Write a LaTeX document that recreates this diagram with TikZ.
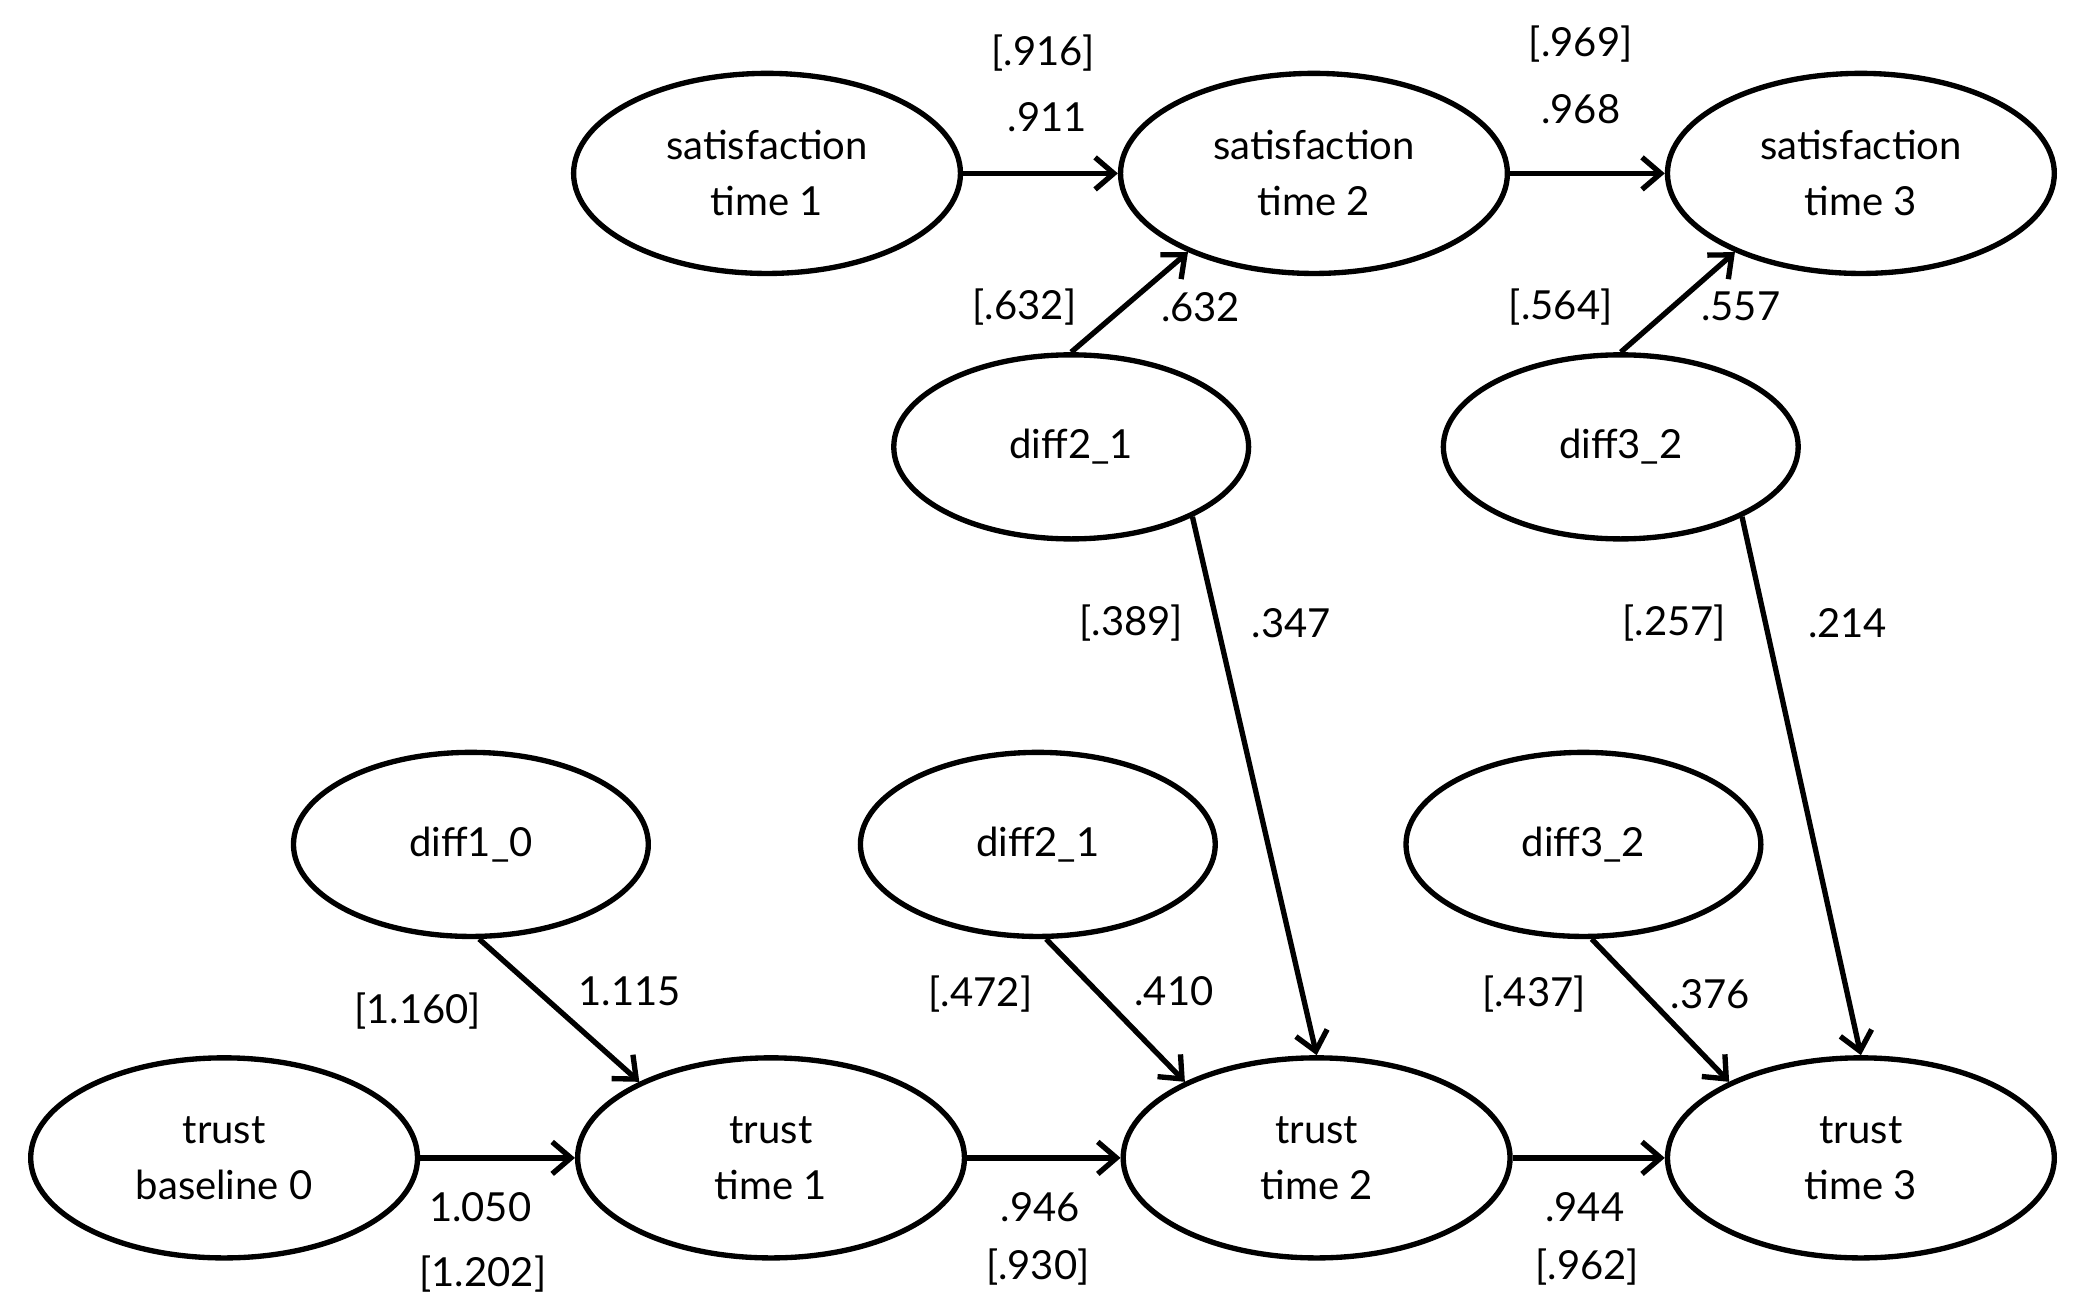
\documentclass[tikz,border=0pt]{standalone}
\usepackage{fontspec}
\setmainfont{Lato}
\usetikzlibrary{shapes.geometric,arrows.meta}
\begin{document}
\begin{tikzpicture}[x=0.5pt,y=-0.5pt,
  el/.style={draw,line width=2pt,ellipse,minimum width=145pt,minimum height=75pt,align=center,font=\fontsize{15}{21}\selectfont,inner sep=0pt},
  ed/.style={draw,line width=2pt,ellipse,minimum width=133pt,minimum height=69pt,font=\fontsize{15}{17}\selectfont,inner sep=0pt},
  ar/.style={line width=2pt,-{Straight Barb[length=7pt,width=12pt,line width=2pt]}},
  lb/.style={font=\fontsize{15}{17}\selectfont,inner sep=0pt}]
\useasboundingbox (0,0) rectangle (1560,978);
\node[el] (s1) at (575,130) {satisfaction\\time 1};
\node[el] (s2) at (985,130) {satisfaction\\time 2};
\node[el] (s3) at (1395,130) {satisfaction\\time 3};
\node[ed] (dt2) at (803,335) {diff2\_1};
\node[ed] (dt3) at (1215,335) {diff3\_2};
\node[ed] (d10) at (353,633) {diff1\_0};
\node[ed] (d21) at (778,633) {diff2\_1};
\node[ed] (d32) at (1187,633) {diff3\_2};
\node[el] (t0) at (168,868) {trust\\baseline 0};
\node[el] (t1) at (578,868) {trust\\time 1};
\node[el] (t2) at (987,868) {trust\\time 2};
\node[el] (t3) at (1395,868) {trust\\time 3};
\draw[ar] (s1) -- (s2);
\draw[ar] (s2) -- (s3);
\draw[ar] (dt2.north) -- (s2.-148);
\draw[ar] (dt3.north) -- (s3.-148);
\draw[ar] (dt2.-30) -- (t2.north);
\draw[ar] (dt3.-30) -- (t3.north);
\draw[ar] (d10.-85) -- (t1.150);
\draw[ar] (d21.-85) -- (t2.150);
\draw[ar] (d32.-85) -- (t3.150);
\draw[ar] (t0) -- (t1);
\draw[ar] (t1) -- (t2);
\draw[ar] (t2) -- (t3);
\node[lb] (l1) at (782,40) {[.916]};
\node[lb] (l2) at (785,88) {.911};
\node[lb] (l3) at (1185,33) {[.969]};
\node[lb] (l4) at (1185,82) {.968};
\node[lb] (l5) at (768,230) {[.632]};
\node[lb] (l6) at (900,230) {.632};
\node[lb] (l7) at (1170,230) {[.564]};
\node[lb] (l8) at (1305,230) {.557};
\node[lb] (l9) at (848,467) {[.389]};
\node[lb] (l10) at (968,467) {.347};
\node[lb] (l11) at (1255,467) {[.257]};
\node[lb] (l12) at (1385,467) {.214};
\node[lb] (l13) at (313,758) {[1.160]};
\node[lb] (l14) at (472,743) {1.115};
\node[lb] (l15) at (735,745) {[.472]};
\node[lb] (l16) at (880,743) {.410};
\node[lb] (l17) at (1150,745) {[.437]};
\node[lb] (l18) at (1282,745) {.376};
\node[lb] (l19) at (360,905) {1.050};
\node[lb] (l20) at (362,955) {[1.202]};
\node[lb] (l21) at (780,905) {.946};
\node[lb] (l22) at (778,950) {[.930]};
\node[lb] (l23) at (1188,905) {.944};
\node[lb] (l24) at (1190,950) {[.962]};
\end{tikzpicture}
\end{document}
